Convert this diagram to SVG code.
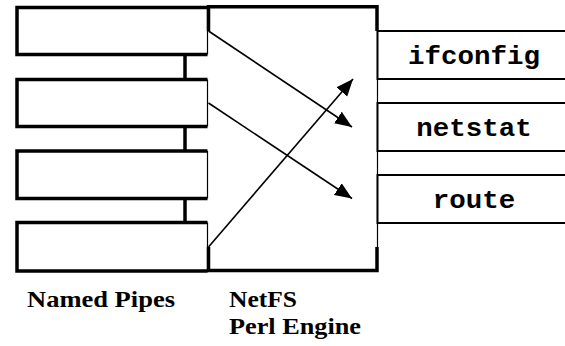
<svg xmlns="http://www.w3.org/2000/svg" width="565" height="346" viewBox="0 0 565 346">
<style>
.thin{stroke:#000;stroke-width:1.2;fill:none}
.thick{stroke:#000;stroke-width:3.5;fill:none}
.cmd{fill:#fff;stroke:#000;stroke-width:2}
.arrow{stroke:#000;stroke-width:1.6;fill:none;marker-end:url(#ah)}
.mono{font-family:"Liberation Mono","Courier New",monospace;font-weight:bold;font-size:25px;text-anchor:middle}
.lbl{font-family:"Liberation Serif","Times New Roman",serif;font-weight:bold;font-size:23.5px}
</style>
<defs>
<marker id="ah" markerUnits="userSpaceOnUse" markerWidth="18" markerHeight="15" refX="17" refY="7" orient="auto" viewBox="0 0 18 15">
<path d="M0,0 L17,7 L0,14 Z" fill="#000"/>
</marker>
</defs>
<g id="engine">
<path class="thick" d="M208.5,31 V6.7 H377 V31"/>
<path class="thick" d="M208.5,247 V270.5 H377 V247"/>
<line class="thin" x1="377.5" y1="31" x2="377.5" y2="247"/>
<text class="lbl" x="229" y="306.5" textLength="68" lengthAdjust="spacingAndGlyphs">NetFS</text>
<text class="lbl" x="229" y="333.5" textLength="132" lengthAdjust="spacingAndGlyphs">Perl Engine</text>
</g>
<g id="pipes">
<g id="pipe1"><path class="thick" d="M207.5,7.5 H17 V54.5 H207.5"/><line class="thin" x1="207.5" y1="7.5" x2="207.5" y2="54.5"/></g>
<g id="pipe2"><path class="thick" d="M207.5,79.5 H17 V126.5 H207.5"/><line class="thin" x1="207.5" y1="79.5" x2="207.5" y2="126.5"/></g>
<g id="pipe3"><path class="thick" d="M207.5,151 H17 V198.5 H207.5"/><line class="thin" x1="207.5" y1="151" x2="207.5" y2="198.5"/></g>
<g id="pipe4"><path class="thick" d="M207.5,222.5 H17 V271 H207.5"/><line class="thin" x1="207.5" y1="222.5" x2="207.5" y2="271"/></g>
<text class="lbl" x="27" y="306.5" textLength="148" lengthAdjust="spacingAndGlyphs">Named Pipes</text>
</g>
<g id="ifconfig"><path class="cmd" d="M566,31 H377.5 V79 H566"/><text class="mono" x="474" y="64" textLength="132" lengthAdjust="spacingAndGlyphs">ifconfig</text></g>
<g id="netstat"><path class="cmd" d="M566,103 H377.5 V151 H566"/><text class="mono" x="474" y="136" textLength="115.5" lengthAdjust="spacingAndGlyphs">netstat</text></g>
<g id="route"><path class="cmd" d="M566,175 H377.5 V223 H566"/><text class="mono" x="474" y="208" textLength="82.5" lengthAdjust="spacingAndGlyphs">route</text></g>
<g id="connectors">
<line class="thick" x1="185" y1="54.5" x2="185" y2="79.5"/>
<line class="thick" x1="185" y1="126.5" x2="185" y2="151"/>
<line class="thick" x1="185" y1="198.5" x2="185" y2="222.5"/>
<line class="arrow" x1="208.5" y1="31" x2="352" y2="127"/>
<line class="arrow" x1="208.5" y1="103" x2="352" y2="198.5"/>
<line class="arrow" x1="208.5" y1="247" x2="353" y2="79"/>
</g>
</svg>
